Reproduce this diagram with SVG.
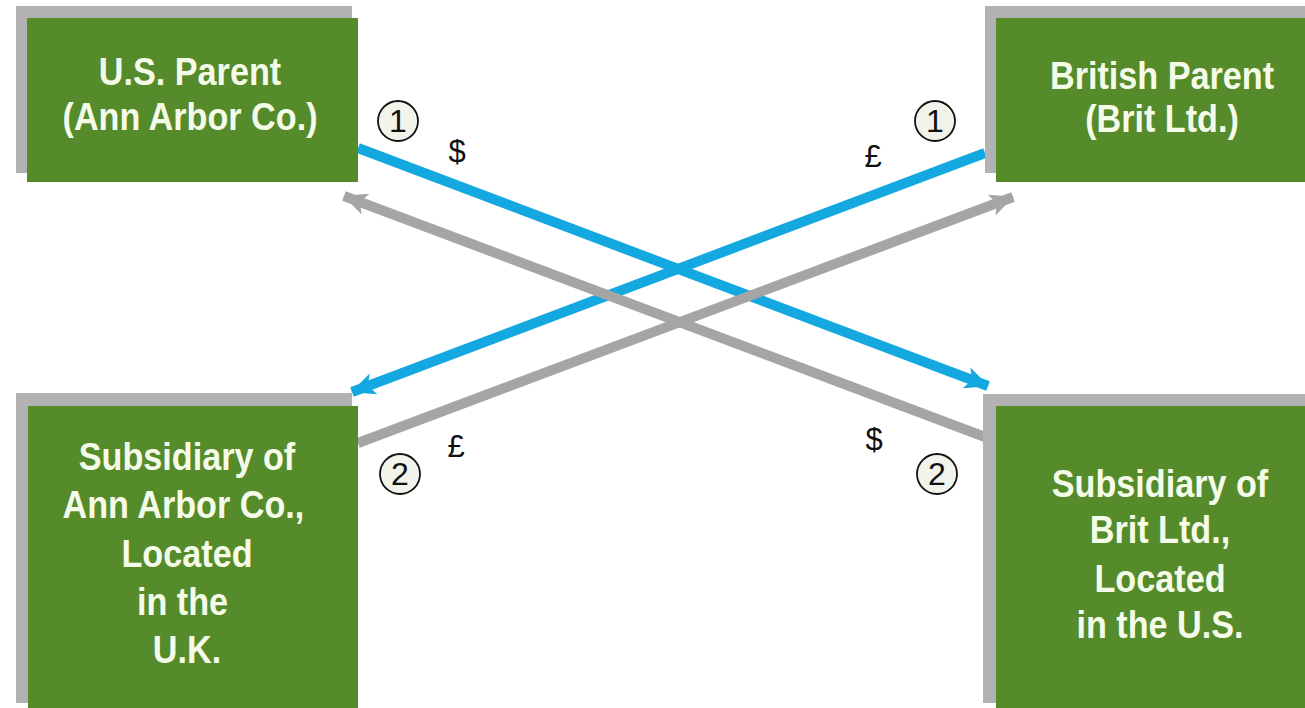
<svg xmlns="http://www.w3.org/2000/svg" width="1305" height="708" viewBox="0 0 1305 708">
<style>
.shadow{fill:#b3b1b4}
.box{fill:#558b2a}
.lbl{font-family:"Liberation Sans",Arial,sans-serif;font-weight:bold;font-size:38px;fill:#f5fbe9;text-anchor:middle}
.blue{stroke:#14a8e0;stroke-width:10;fill:none}
.gray{stroke:#a5a5a5;stroke-width:10;fill:none}
.num circle{fill:#f2f3ea;stroke:#111;stroke-width:1.8}
.num text{font-family:"Liberation Sans",Arial,sans-serif;font-size:32px;fill:#111;text-anchor:middle}
.cur{font-family:"Liberation Sans",Arial,sans-serif;font-size:31px;fill:#111;text-anchor:middle}
</style>
<defs>
<marker id="ab" markerUnits="userSpaceOnUse" markerWidth="26" markerHeight="24" refX="23" refY="12" orient="auto">
<path d="M0,1 L24,12 L0,23 L6,12 Z" fill="#14a8e0"/>
</marker>
<marker id="ag" markerUnits="userSpaceOnUse" markerWidth="26" markerHeight="24" refX="23" refY="12" orient="auto">
<path d="M0,1 L24,12 L0,23 L6,12 Z" fill="#a5a5a5"/>
</marker>
</defs>
<rect width="1305" height="708" fill="#fff"/>

<g id="connectors">
<line class="blue" x1="358" y1="148" x2="988" y2="386" marker-end="url(#ab)"/>
<line class="blue" x1="985" y1="153" x2="352" y2="392" marker-end="url(#ab)"/>
<line class="gray" x1="358" y1="443" x2="1013" y2="197" marker-end="url(#ag)"/>
<line class="gray" x1="985" y1="437" x2="344" y2="196" marker-end="url(#ag)"/>
</g>

<g id="node-us-parent">
<rect class="shadow" x="16" y="6" width="336" height="167"/>
<rect class="box" x="27" y="18" width="331" height="164"/>
<g transform="translate(190,0) scale(0.9,1)">
<text class="lbl" x="0" y="85">U.S. Parent</text>
<text class="lbl" x="0" y="130">(Ann Arbor Co.)</text>
</g>
</g>

<g id="node-british-parent">
<rect class="shadow" x="985" y="6" width="320" height="167"/>
<rect class="box" x="996" y="18" width="309" height="164"/>
<g transform="translate(1162,0) scale(0.9,1)">
<text class="lbl" x="0" y="89">British Parent</text>
<text class="lbl" x="0" y="132">(Brit Ltd.)</text>
</g>
</g>

<g id="node-sub-uk">
<rect class="shadow" x="16" y="393" width="336" height="310"/>
<rect class="box" x="28" y="406" width="330" height="302"/>
<g transform="translate(187,0) scale(0.9,1)">
<text class="lbl" x="0" y="470">Subsidiary of</text>
<text class="lbl" x="-4" y="518">Ann Arbor Co.,</text>
<text class="lbl" x="0" y="567">Located</text>
<text class="lbl" x="-5" y="615">in the</text>
<text class="lbl" x="0" y="663">U.K.</text>
</g>
</g>

<g id="node-sub-us">
<rect class="shadow" x="983" y="394" width="322" height="309"/>
<rect class="box" x="996" y="406" width="309" height="302"/>
<g transform="translate(1160,0) scale(0.9,1)">
<text class="lbl" x="0" y="497">Subsidiary of</text>
<text class="lbl" x="0" y="543">Brit Ltd.,</text>
<text class="lbl" x="0" y="592">Located</text>
<text class="lbl" x="0" y="638">in the U.S.</text>
</g>
</g>

<g id="labels">
<g class="num"><circle cx="398" cy="121" r="20"/><text x="398" y="132">1</text></g>
<g class="num"><circle cx="935" cy="121" r="20"/><text x="935" y="132">1</text></g>
<g class="num"><circle cx="400" cy="474" r="20"/><text x="400" y="485">2</text></g>
<g class="num"><circle cx="937" cy="474" r="20"/><text x="937" y="485">2</text></g>
<text class="cur" x="457" y="162">$</text>
<text class="cur" x="873" y="167">£</text>
<text class="cur" x="456" y="457">£</text>
<text class="cur" x="874" y="450">$</text>
</g>
</svg>
